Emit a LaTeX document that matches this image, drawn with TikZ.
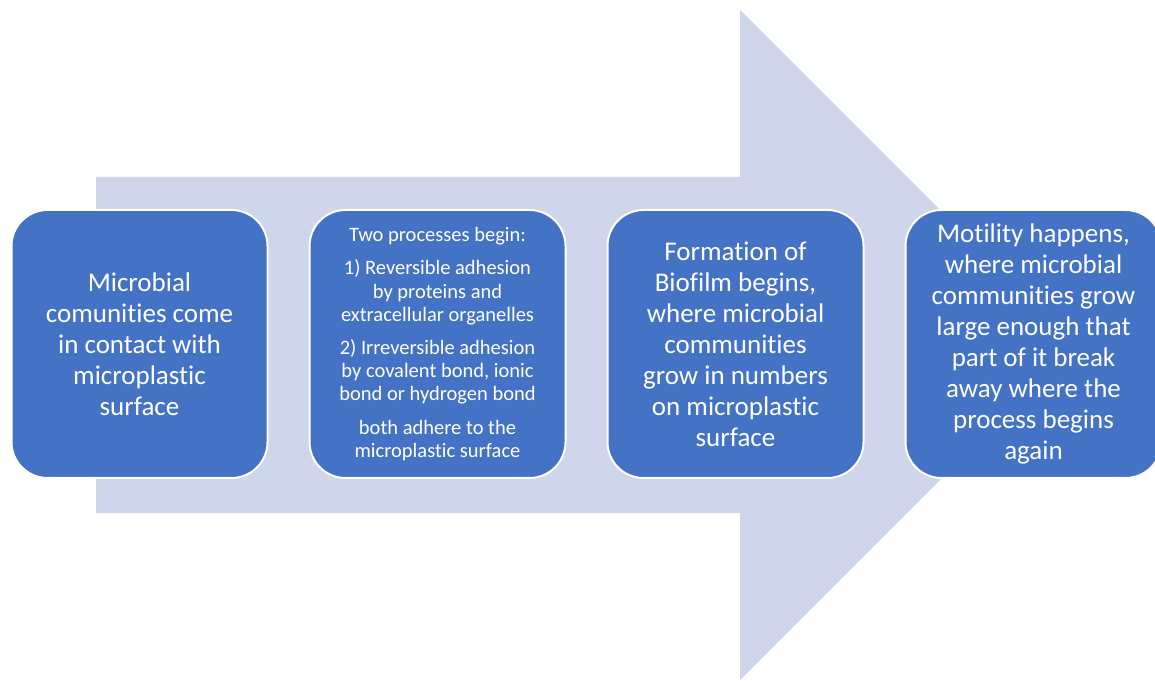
\documentclass[tikz,border=0pt]{standalone}
\usepackage{fontspec}
\setmainfont{Carlito}[Ligatures=NoCommon]
\usetikzlibrary{positioning}
\definecolor{boxblue}{HTML}{4472C4}
\definecolor{arrowlilac}{HTML}{CFD5EA}
\tikzset{
  stepbox/.style={draw=white, line width=2pt, fill=boxblue, rounded corners=36pt,
    minimum width=256pt, minimum height=268pt, text=white, align=center,
    font=\fontsize{27}{31}\selectfont},
  smalltext/.style={font=\fontsize{20.5}{23.2}\selectfont}
}
\begin{document}
\begin{tikzpicture}[x=1pt, y=1pt, node distance=40pt]
\useasboundingbox (0,0) rectangle (1155,680);
\clip (0,0) rectangle (1155,680);
% background arrow
\fill[arrowlilac] (96,503) -- (740,503) -- (740,670) -- (1075,335)
  -- (740,0) -- (740,167) -- (96,167) -- cycle;
% steps
\node[stepbox] (contact) at (139.5,336) {Microbial\\comunities come\\in contact with\\microplastic\\surface};
\node[stepbox, smalltext, right=of contact] (adhesion) {Two processes begin:\\[10pt]
  1) Reversible adhesion\\by proteins and\\extracellular organelles\\[10pt]
  2) Irreversible adhesion\\by covalent bond, ionic\\bond or hydrogen bond\\[10pt]
  both adhere to the\\microplastic surface};
\node[stepbox, right=of adhesion] (biofilm) {Formation of\\Biofilm begins,\\where microbial\\communities\\grow in numbers\\on microplastic\\surface};
\node[stepbox, right=of biofilm] (motility) {Motility happens,\\where microbial\\communities grow\\large enough that\\part of it break\\away where the\\process begins\\again};
\end{tikzpicture}
\end{document}
